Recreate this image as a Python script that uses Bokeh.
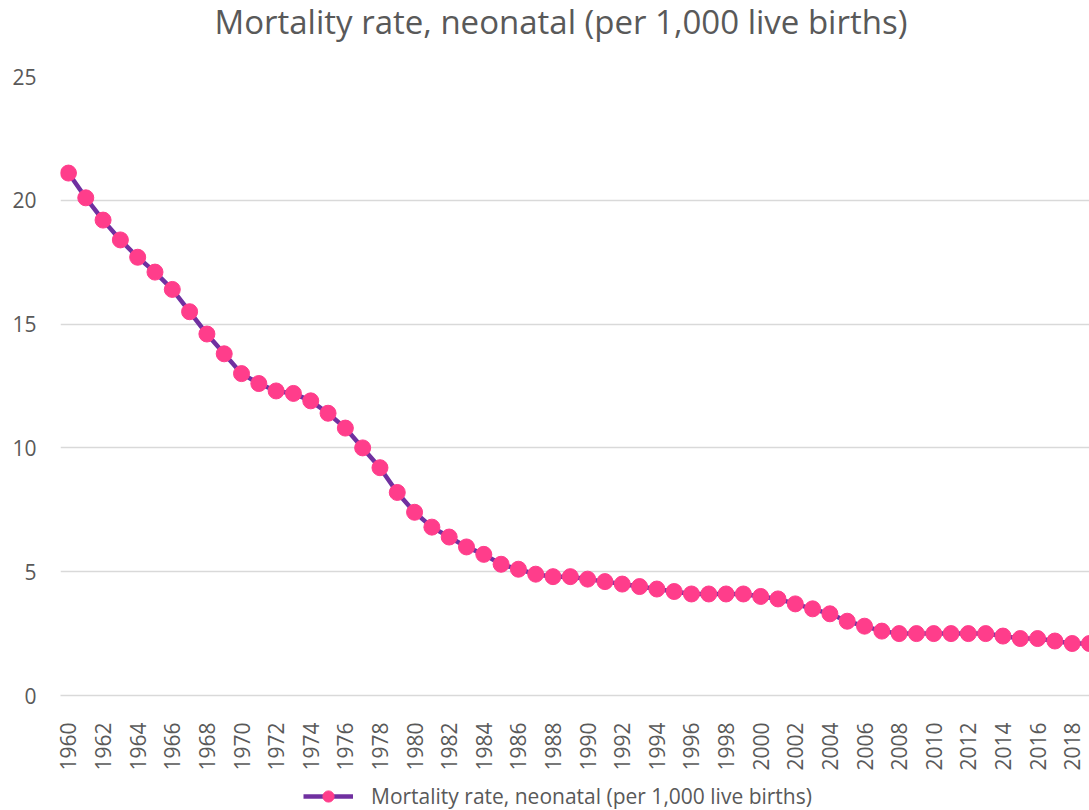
from math import pi
from bokeh.plotting import figure
from bokeh.layouts import column
from bokeh.models import (Range1d, FixedTicker, Legend, LegendItem,
                          ColumnDataSource, Label)
from bokeh.embed import file_html
from bokeh.resources import INLINE

years = list(range(1960, 2020))
mortality = [21.1, 20.1, 19.2, 18.4, 17.7, 17.1, 16.4, 15.5, 14.6, 13.8,
             13.0, 12.6, 12.3, 12.2, 11.9, 11.4, 10.8, 10.0, 9.2, 8.2,
             7.4, 6.8, 6.4, 6.0, 5.7, 5.3, 5.1, 4.9, 4.8, 4.8,
             4.7, 4.6, 4.5, 4.4, 4.3, 4.2, 4.1, 4.1, 4.1, 4.1,
             4.0, 3.9, 3.7, 3.5, 3.3, 3.0, 2.8, 2.6, 2.5, 2.5,
             2.5, 2.5, 2.5, 2.5, 2.4, 2.3, 2.3, 2.2, 2.1, 2.1]
year_ticks = list(range(1960, 2019, 2))
y_ticks = [0, 5, 10, 15, 20, 25]
title_text = "Mortality rate, neonatal (per 1,000 live births)"
series_name = "Mortality rate, neonatal (per 1,000 live births)"

FONT = "Open Sans"
GRAY = "#595959"
LINE_C = "#7030A0"
MARK_C = "#FF3D8B"
line_style = dict(line_color=LINE_C, line_width=4.5)
mark_style = dict(size=16, fill_color=MARK_C, line_color=MARK_C)
W = 1089

src = ColumnDataSource(dict(year=years, val=mortality))

# title strip (its frame is aligned with the chart frame: x 60..1089)
t = figure(width=W, height=50, output_backend="svg", toolbar_location=None,
           x_range=Range1d(60, W), y_range=Range1d(0, 50), min_border=0)
t.axis.visible = False
t.grid.visible = False
t.outline_line_color = None
t.add_layout(Label(x=214, y=29, text=title_text, text_font=FONT,
                   text_font_size="33px", text_color=GRAY,
                   text_baseline="alphabetic", text_align="left"))

# main chart
p = figure(width=W, height=723, output_backend="svg", toolbar_location=None,
           x_range=Range1d(1959.54, 2019.0), y_range=Range1d(0, 25),
           min_border_left=60, min_border_right=0, min_border_top=26,
           min_border_bottom=78)
p.outline_line_color = None
p.background_fill_color = "white"
p.border_fill_color = "white"

p.xgrid.grid_line_color = None
p.ygrid.grid_line_color = "#d9d9d9"
p.ygrid.grid_line_width = 1.3
p.yaxis.ticker = FixedTicker(ticks=y_ticks)
p.xaxis.ticker = FixedTicker(ticks=year_ticks)

for ax in (p.xaxis[0], p.yaxis[0]):
    ax.major_tick_line_color = None
    ax.minor_tick_line_color = None
    ax.major_label_text_font = FONT
    ax.major_label_text_font_size = "21px"
    ax.major_label_text_color = GRAY
p.yaxis.axis_line_color = None
p.yaxis.major_label_standoff = 18
p.xaxis.axis_line_color = "#d9d9d9"
p.xaxis.axis_line_width = 1.3
p.xaxis.major_label_orientation = pi / 2
p.xaxis.major_label_standoff = 21

p.line("year", "val", source=src, **line_style)
p.scatter("year", "val", source=src, **mark_style)

# legend strip below the chart (series drawn out of its view; only legend shows)
q = figure(width=W, height=37, output_backend="svg", toolbar_location=None,
           x_range=Range1d(0, 1), y_range=Range1d(0, 1), min_border=0)
q.axis.visible = False
q.grid.visible = False
q.outline_line_color = None
lr = q.line("year", "val", source=src, **line_style)
sr = q.scatter("year", "val", source=src, **mark_style)
legend = Legend(items=[LegendItem(label=series_name, renderers=[lr, sr])],
                location=(243, 0), orientation="horizontal",
                label_text_font=FONT, label_text_font_size="21px",
                label_text_color=GRAY, border_line_color=None,
                background_fill_alpha=0, glyph_width=50, glyph_height=28,
                label_standoff=18, margin=0, padding=0)
q.add_layout(legend, "center")

layout = column(t, p, q, spacing=0)
open("out.html", "w").write(file_html(layout, INLINE))
